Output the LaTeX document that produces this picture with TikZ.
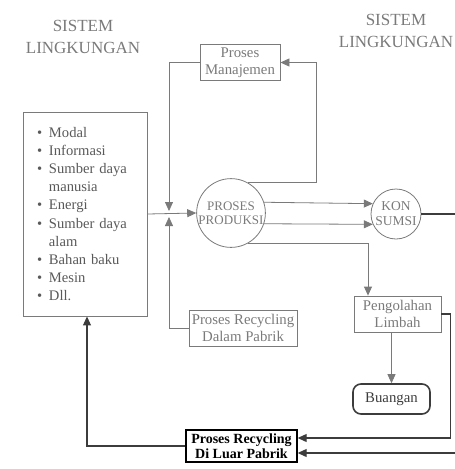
\documentclass[tikz,border=0pt]{standalone}
\usepackage{fontspec}
\setmainfont{Liberation Serif}
\usetikzlibrary{arrows.meta}

\definecolor{scan}{HTML}{7A7A7A}
\definecolor{ink}{HTML}{3C3C3C}
\newcommand{\bul}{\makebox[12pt][l]{\textbullet}}
\newcommand{\ind}{\hspace*{12pt}}

\begin{document}
\begin{tikzpicture}[x=1pt,y=-1pt,>={Triangle[length=9pt,width=8pt]},
  line/.style={draw=scan, line width=0.8pt},
  dark/.style={draw=ink, line width=1.1pt},
  box/.style={draw=scan, line width=0.8pt, text=scan, align=center, inner sep=2pt,
    font=\fontsize{14.8}{16.5}\selectfont},
  proc/.style={circle, draw=scan, line width=0.8pt, text=scan, align=center, inner sep=0pt,
    font=\fontsize{13}{14}\selectfont},
  title/.style={text=scan, align=center, font=\fontsize{17}{22.5}\selectfont}]
\useasboundingbox (0,0) rectangle (455,469);

% environment labels
\node[title] (envL) at (83,37) {SISTEM\\LINGKUNGAN};
\node[title] (envR) at (396,31) {SISTEM\\LINGKUNGAN};

% inputs
\node[draw=scan, line width=0.9pt, minimum width=124pt, minimum height=204pt,
  text width=96pt, align=left, inner xsep=14pt, text=ink!85,
  font=\fontsize{14.6}{18.1}\selectfont] (src) at (85,214)
  {\bul Modal\\ \bul Informasi\\ \bul Sumber daya\\ \ind manusia\\ \bul Energi\\
   \bul Sumber daya\\ \ind alam\\ \bul Bahan baku\\ \bul Mesin\\ \bul Dll.};

% processes
\node[box, minimum width=80pt, minimum height=36pt] (man) at (240,62.5) {Proses\\Manajemen};
\node[proc, minimum size=62pt] (prod) at (231,213) {PROSES\\PRODUKSI};
\node[proc, minimum size=50pt, font=\fontsize{13.5}{15}\selectfont] (kon) at (396,214) {KON\\SUMSI};
\node[box, minimum width=87pt, minimum height=36pt] (limbah) at (397.5,314) {Pengolahan\\Limbah};
\node[box, draw=ink, text=ink, rounded corners=8pt, line width=1.6pt,
  minimum width=77pt, minimum height=30pt] (buang) at (391.5,399) {Buangan};
\node[box, minimum width=108pt, minimum height=36pt] (dalam) at (243,328) {Proses Recycling\\Dalam Pabrik};
\node[box, draw=black, text=black, line width=1.4pt, minimum width=111pt, minimum height=32pt,
  font=\bfseries\fontsize{14}{15}\selectfont] (luar) at (241.5,446) {Proses Recycling\\Di Luar Pabrik};

\coordinate (jn) at (169,214);

% flows
\draw[line, ->] (src.east) -- (prod.west);
\draw[line, ->] (man.west) -| ([yshift=3pt]jn);
\draw[line, ->] (dalam.west) -| ([yshift=-3pt]jn);
\draw[line, ->] (prod.60) -| ([xshift=36pt]man.east) -- (man.east);
\draw[line, ->] (prod.18.8) -- (kon.156.4);
\draw[line, ->] (prod.-18.8) -- (kon.-156.4);
\draw[line, ->] (prod.-60) -| ([xshift=-29.5pt]limbah.north);
\draw[line, ->] (buang.north |- limbah.south) -- (buang.north);
\draw[dark, ->] (limbah.east) -- ++(9,0) |- ([yshift=8pt]luar.east);
\draw[dark, ->] (kon.east) -- ++(40,0) |- ([yshift=-7pt]luar.east);
\draw[dark, ->] (luar.west) -| ([xshift=2pt]src.south);
\end{tikzpicture}
\end{document}
